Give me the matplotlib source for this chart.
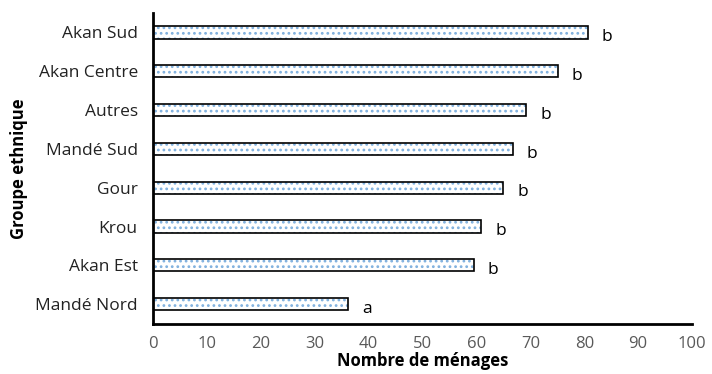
import matplotlib.pyplot as plt

groupes = ['Akan Sud', 'Akan Centre', 'Autres', 'Mandé Sud', 'Gour', 'Krou', 'Akan Est', 'Mandé Nord']
menages = [80.6, 75.1, 69.2, 66.7, 65.0, 60.9, 59.5, 36.2]
lettres = ['b', 'b', 'b', 'b', 'b', 'b', 'b', 'a']

plt.rcParams['font.family'] = ['Open Sans', 'DejaVu Sans']
plt.rcParams['hatch.linewidth'] = 1.2

fig = plt.figure(figsize=(7.12, 3.74), dpi=100)
ax = fig.add_axes([0.215, 0.135, 0.757, 0.83])

pos = list(range(len(groupes)))
# dotted blue fill, then black outline on top
ax.barh(pos, menages, height=0.31, color='white', edgecolor='#7fb0de',
        linewidth=0, hatch='...')
ax.barh(pos, menages, height=0.31, fill=False, edgecolor='black', linewidth=1.2)
for p, v, l in zip(pos, menages, lettres):
    ax.text(v + 2.6, p + 0.12, l, fontsize=12.5, color='black', va='center')

ax.set_yticks(pos)
ax.set_yticklabels(groupes, fontsize=12.5, color='#222222')
ax.set_ylim(7.5, -0.5)
ax.set_xlim(0, 100)
ax.set_xticks(range(0, 101, 10))
ax.tick_params(axis='x', colors='#595959', labelsize=12, length=0, pad=9)
ax.tick_params(axis='y', length=0, pad=11)

ax.spines['top'].set_visible(False)
ax.spines['right'].set_visible(False)
ax.spines['left'].set_linewidth(2)
ax.spines['bottom'].set_linewidth(2)

ax.set_xlabel('Nombre de ménages', fontsize=12, fontweight='bold', labelpad=0)
ax.set_ylabel('Groupe ethnique', fontsize=12, fontweight='bold', labelpad=5)

fig.savefig('out.png', dpi=100)
